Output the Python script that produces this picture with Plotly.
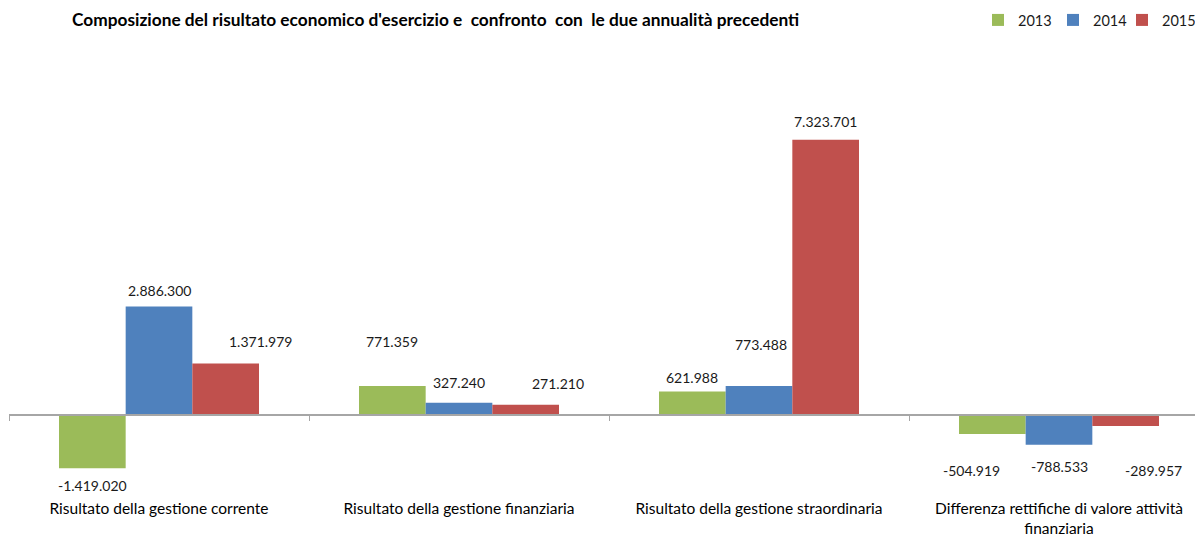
import plotly.graph_objects as go

categories = [
    "Risultato della gestione corrente",
    "Risultato della gestione finanziaria",
    "Risultato della gestione straordinaria",
    "Differenza rettifiche di valore attività<br>finanziaria",
]
years = ["2013", "2014", "2015"]
values_2013 = [-1419020, 771359, 621988, -504919]
values_2014 = [2886300, 327240, 773488, -788533]
values_2015 = [1371979, 271210, 7323701, -289957]

title_text = "Composizione del risultato economico d'esercizio e  confronto  con  le due annualità precedenti"

# styling
colors = ["#9BBB59", "#4F81BD", "#C0504D"]
legend_text_px = [1018, 1093, 1162]
# label offsets (px) from bar end to label centre, and horizontal nudges (px)
label_dy = [[17.6, 45, 14.6, 37], [15.5, 20, 41, 21.6], [22, 21, 18.6, 45]]
label_dx = [[0, 0, 0, -21], [0, 0, 2, 0], [35, 32, 0, 28]]

series = [values_2013, values_2014, values_2015]

# page body has an 8px default margin -> figure offset by 8px
OFF = 8
W, H = 1203 - OFF, 538 - OFF
m_l, m_r, m_t, m_b = 9 - OFF, 0, 60 - OFF, 41
zero_px = 415 - OFF
y_max = (zero_px - m_t) / 37.6 * 1e6
y_min = -((H - m_b) - zero_px) / 37.6 * 1e6

bargap = 1 / 3
x_range = [-0.5, -0.5 + (W - m_l - m_r) / 300.0]

legend_names = ["legend", "legend2", "legend3"]

fig = go.Figure()
for yr, vals, col, lg in zip(years, series, colors, legend_names):
    fig.add_trace(go.Bar(
        x=categories, y=vals, name=yr, legend=lg,
        marker=dict(color=col, line=dict(width=0)),
        hoverinfo="skip",
    ))

# helper trace for the zero-line axis with boundary ticks
fig.add_trace(go.Scatter(
    x=categories, y=[0] * len(categories), xaxis="x2", mode="markers",
    marker=dict(opacity=0), showlegend=False, hoverinfo="skip",
))

def fmt(v):
    return f"{v:,}".replace(",", ".")

bar_w = (1 - bargap) / len(years)
annotations = []
for si, vals in enumerate(series):
    for ci, v in enumerate(vals):
        xpos = ci + (si - 1) * bar_w
        d = label_dy[si][ci]
        annotations.append(dict(
            x=xpos, y=v, xref="x", yref="y", text=fmt(v), showarrow=False,
            xanchor="center", yanchor="middle",
            yshift=d if v >= 0 else -d, xshift=label_dx[si][ci],
            font=dict(family="Lato", size=14, color="#1a1a1a"),
        ))

zero_pos = (0 - y_min) / (y_max - y_min)

legends = {}
for lg, tx in zip(legend_names, legend_text_px):
    legends[lg] = dict(orientation="h", xref="container", x=(tx - 40 - OFF) / W,
                       xanchor="left", yref="container", y=1 - (20 - OFF) / H,
                       yanchor="middle", bgcolor="rgba(0,0,0,0)",
                       font=dict(family="Lato", size=14.5, color="#1a1a1a"),
                       itemwidth=30)

fig.update_layout(
    width=W, height=H,
    margin=dict(l=m_l, r=m_r, t=m_t, b=m_b, autoexpand=False),
    paper_bgcolor="white", plot_bgcolor="white",
    barmode="group", bargap=bargap, bargroupgap=0,
    title=dict(text="<b>" + title_text + "</b>", x=(72 - OFF) / W, xanchor="left",
               xref="container", y=1 - (20 - OFF) / H, yanchor="middle", yref="container",
               font=dict(family="Lato", size=17.3, color="black")),
    xaxis=dict(type="category", range=x_range, showline=False, showgrid=False,
               ticks="", tickfont=dict(family="Lato", size=15.5, color="black"),
               zeroline=False, fixedrange=True, automargin=False),
    xaxis2=dict(type="category", overlaying="x", anchor="free", position=zero_pos,
                range=x_range, showline=True, linecolor="#A6A6A6", linewidth=1.5,
                ticks="outside", tickson="boundaries", ticklen=5, tickcolor="#A6A6A6",
                showticklabels=False, showgrid=False, zeroline=False, automargin=False),
    yaxis=dict(range=[y_min, y_max], showgrid=False, showline=False, zeroline=False,
               showticklabels=False, ticks="", automargin=False),
    annotations=annotations,
    font=dict(family="Lato"),
    **legends,
)

fig.write_html("out.html")
